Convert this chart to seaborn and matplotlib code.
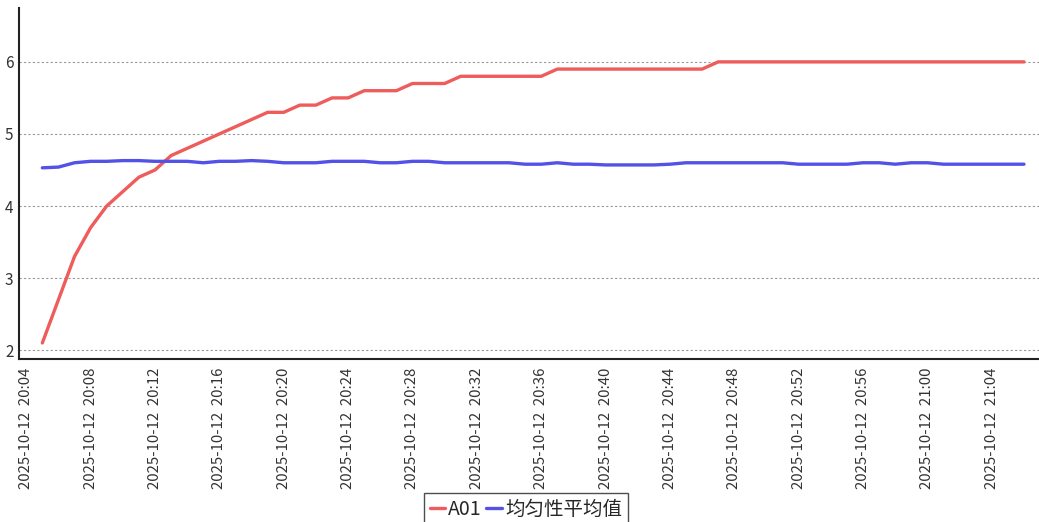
import pandas as pd
import seaborn as sns
import matplotlib.pyplot as plt
import matplotlib.dates as mdates

# one reading per minute, 20:05 .. 21:06
times = pd.date_range("2025-10-12 20:05", "2025-10-12 21:06", freq="1min")

a01 = [2.1, 2.7, 3.3, 3.7, 4.0, 4.2, 4.4, 4.5, 4.7, 4.8,
       4.9, 5.0, 5.1, 5.2, 5.3, 5.3, 5.4, 5.4, 5.5, 5.5,
       5.6, 5.6, 5.6, 5.7, 5.7, 5.7, 5.8, 5.8, 5.8, 5.8,
       5.8, 5.8, 5.9, 5.9, 5.9, 5.9, 5.9, 5.9, 5.9, 5.9,
       5.9, 5.9, 6.0, 6.0, 6.0, 6.0, 6.0, 6.0, 6.0, 6.0,
       6.0, 6.0, 6.0, 6.0, 6.0, 6.0, 6.0, 6.0, 6.0, 6.0,
       6.0, 6.0]
avg = [4.53, 4.54, 4.60, 4.62, 4.62, 4.63, 4.63, 4.62, 4.62, 4.62,
       4.60, 4.62, 4.62, 4.63, 4.62, 4.60, 4.60, 4.60, 4.62, 4.62,
       4.62, 4.60, 4.60, 4.62, 4.62, 4.60, 4.60, 4.60, 4.60, 4.60,
       4.58, 4.58, 4.60, 4.58, 4.58, 4.57, 4.57, 4.57, 4.57, 4.58,
       4.60, 4.60, 4.60, 4.60, 4.60, 4.60, 4.60, 4.58, 4.58, 4.58,
       4.58, 4.60, 4.60, 4.58, 4.60, 4.60, 4.58, 4.58, 4.58, 4.58,
       4.58, 4.58]
series_names = ["A01", "均匀性平均值"]
colors = ["#ee5c5c", "#5252e6"]

df = pd.DataFrame({
    "time": list(times) * 2,
    "value": a01 + avg,
    "series": [series_names[0]] * len(times) + [series_names[1]] * len(times),
})

sns.set_style("white")
plt.rcParams['font.family'] = ['Noto Sans CJK SC', 'DejaVu Sans']

fig = plt.figure(figsize=(10.39, 5.22), dpi=100)
ax = fig.add_axes([0.0183, 0.312, 0.9817, 0.673])

sns.lineplot(data=df, x="time", y="value", hue="series",
             palette=colors, linewidth=2.4, ax=ax, legend=True)

ax.set_xlim(pd.Timestamp("2025-10-12 20:03:33"), pd.Timestamp("2025-10-12 21:06:56"))
ax.set_ylim(1.875, 6.75)
ax.set_yticks([2, 3, 4, 5, 6])
ax.xaxis.set_major_locator(mdates.MinuteLocator(byminute=range(0, 60, 4)))
ax.xaxis.set_major_formatter(mdates.DateFormatter("%Y-%m-%d  %H:%M"))
plt.setp(ax.get_xticklabels(), rotation=90)
ax.tick_params(axis="x", labelsize=10.8, colors="#333333", length=4, width=1, pad=2)
ax.tick_params(axis="y", labelsize=11, colors="#333333", length=0, pad=4)
ax.yaxis.grid(True, linestyle=(0, (2, 2)), color="#999999", linewidth=0.8)
ax.xaxis.grid(False)
ax.set_xlabel("")
ax.set_ylabel("")

for side in ["top", "right"]:
    ax.spines[side].set_visible(False)
for side in ["left", "bottom"]:
    ax.spines[side].set_color("#222222")
    ax.spines[side].set_linewidth(1.5)

handles, labels = ax.get_legend_handles_labels()
ax.get_legend().remove()
leg = fig.legend(handles, labels, loc="upper center", bbox_to_anchor=(0.506, 0.055),
                 ncol=2, frameon=True, fancybox=False, fontsize=14,
                 handlelength=0.8, handletextpad=0.15, columnspacing=0.25,
                 borderpad=0.3, borderaxespad=0)
leg.get_frame().set_edgecolor("#222222")
leg.get_frame().set_linewidth(1.0)

fig.savefig("out.png", dpi=100)
